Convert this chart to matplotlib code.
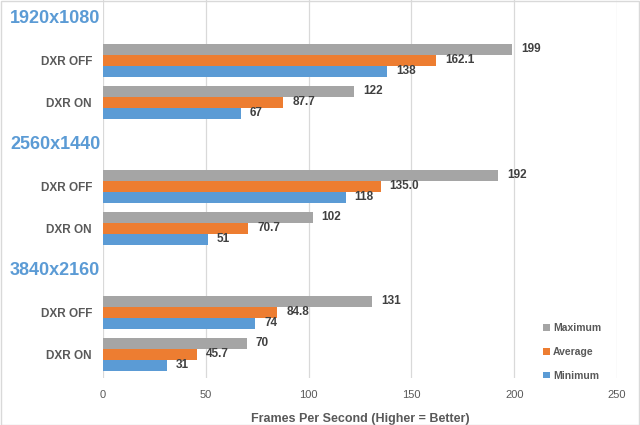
import numpy as np
import matplotlib
matplotlib.use("Agg")
import matplotlib.pyplot as plt
from matplotlib.patches import Rectangle
import matplotlib.transforms as mtransforms

plt.rcParams['font.family'] = ['Liberation Sans', 'DejaVu Sans']

# data
resolutions = ["1920x1080", "2560x1440", "3840x2160"]
modes = ["DXR OFF", "DXR ON"]
maximum = [199, 122, 192, 102, 131, 70]
average = [162.1, 87.7, 135.0, 70.7, 84.8, 45.7]
minimum = [138, 67, 118, 51, 74, 31]
max_labels = ["199", "122", "192", "102", "131", "70"]
avg_labels = ["162.1", "87.7", "135.0", "70.7", "84.8", "45.7"]
min_labels = ["138", "67", "118", "51", "74", "31"]
xticks = [0, 50, 100, 150, 200, 250]

c_max = "#A5A5A5"
c_avg = "#ED7D31"
c_min = "#5B9BD5"
txt = "#595959"

fig = plt.figure(figsize=(6.4, 4.25), dpi=100)
ax = fig.add_axes([103 / 640, 47 / 425, 514 / 640, 378 / 425])

# each resolution takes a header row, then the two modes
ypos = []
header_pos = []
for i in range(len(resolutions)):
    header_pos.append(i * 3)
    ypos += [i * 3 + 1, i * 3 + 2]
ypos = np.array(ypos, dtype=float)

h = 0.262
ax.barh(ypos - h, maximum, height=h, color=c_max, label="Maximum", zorder=2)
ax.barh(ypos, average, height=h, color=c_avg, label="Average", zorder=2)
ax.barh(ypos + h, minimum, height=h, color=c_min, label="Minimum", zorder=2)

for y, vals, labs in [(ypos - h, maximum, max_labels),
                      (ypos, average, avg_labels),
                      (ypos + h, minimum, min_labels)]:
    for yy, v, l in zip(y, vals, labs):
        ax.annotate(l, (v, yy), xytext=(6.5, 0), textcoords="offset points",
                    va="center", ha="left", fontsize=8.5, fontweight="bold",
                    color="#404040")

ax.set_xlim(0, 250)
ax.set_xticks(xticks)
ax.set_ylim(8.57, -0.43)
ax.set_yticks(ypos)
ax.set_yticklabels(modes * len(resolutions), fontsize=8.5, fontweight="bold", color=txt)
ax.tick_params(axis="both", length=0, pad=8)
ax.tick_params(axis="x", labelsize=8, labelcolor=txt, pad=9)
ax.grid(axis="x", color="#D9D9D9", linewidth=0.9, zorder=0)
ax.set_axisbelow(True)
for s in ax.spines.values():
    s.set_visible(False)

trans = mtransforms.blended_transform_factory(fig.transFigure, ax.transData)
for hp, r in zip(header_pos, resolutions):
    ax.text(10 / 640, hp, r, transform=trans, ha="left", va="center",
            fontsize=13, fontweight="bold", color=c_min)

ax.set_xlabel("Frames Per Second (Higher = Better)", fontsize=9, fontweight="bold",
              color=txt, labelpad=9)

leg = ax.legend(loc="center left", bbox_to_anchor=(534 / 640, (425 - 352) / 425),
                bbox_transform=fig.transFigure, frameon=False,
                prop={"size": 7.5, "weight": "bold"},
                handlelength=0.6, handleheight=0.6, handletextpad=0.3,
                labelspacing=1.3, labelcolor=txt)

fig.patches.append(Rectangle((0.001, 0.001), 0.997, 0.997, transform=fig.transFigure,
                             fill=False, edgecolor="#D9D9D9", linewidth=1))

fig.savefig("out.png", dpi=100)
